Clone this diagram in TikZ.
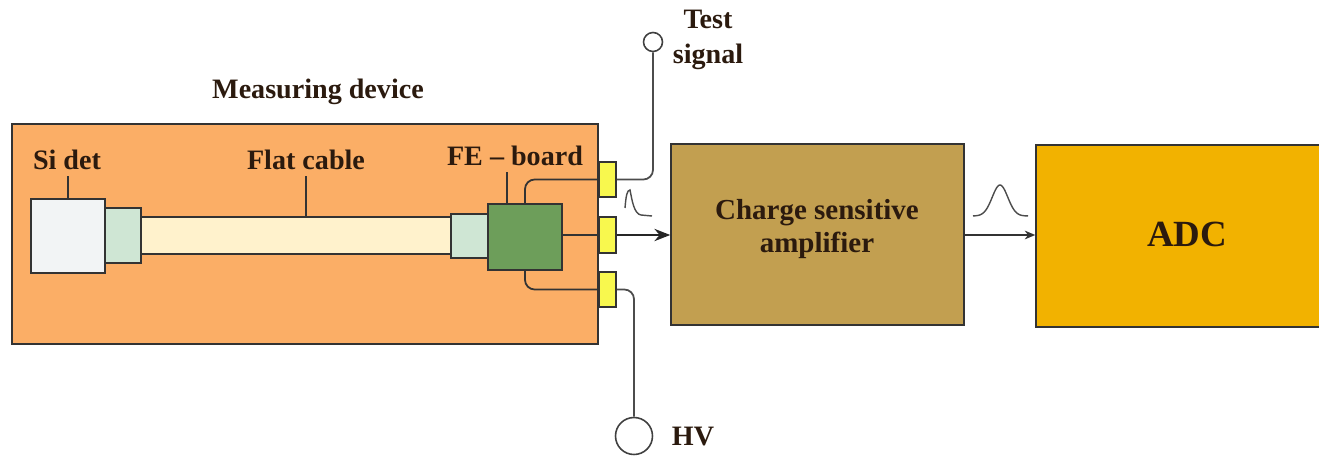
\documentclass[tikz,border=0pt]{standalone}
\usepackage{fontspec}
\setmainfont{Liberation Serif}
\usepackage{tikz}
\usetikzlibrary{arrows.meta}
\definecolor{devorange}{HTML}{FBAE66}
\definecolor{detgray}{HTML}{F2F4F5}
\definecolor{plugmint}{HTML}{CFE6D4}
\definecolor{cablecream}{HTML}{FFF2CC}
\definecolor{boardgreen}{HTML}{6D9E5A}
\definecolor{socketyellow}{HTML}{F8F84E}
\definecolor{ampolive}{HTML}{C29F50}
\definecolor{adcamber}{HTML}{F2B200}
\definecolor{inkbrown}{HTML}{2B1A0E}

\begin{document}
\begin{tikzpicture}[x=0.02cm,y=-0.02cm,
  box/.style={draw=black!80,line width=0.9pt,inner sep=0pt},
  lbl/.style={font=\bfseries\fontsize{16}{19}\selectfont,text=inkbrown},
  wire/.style={draw=black!80,line width=1pt,rounded corners=5.5pt}]
\useasboundingbox (0,0) rectangle (1319,456);

% measuring device
\node[box,fill=devorange,minimum width=11.72cm,minimum height=4.4cm] (dev) at (305,234) {};
\node[lbl] (ldev) at (318,92) {Measuring device};
\node[box,fill=detgray,minimum width=1.48cm,minimum height=1.48cm] (sidet) at (68,236) {};
\node[box,fill=plugmint,minimum width=0.72cm,minimum height=1.1cm] (plugl) at (123,235.5) {};
\node[box,fill=cablecream,minimum width=6.2cm,minimum height=0.74cm] (cable) at (296,235.5) {};
\node[box,fill=plugmint,minimum width=0.74cm,minimum height=0.88cm] (plugr) at (469.5,236) {};
\node[box,fill=boardgreen,minimum width=1.48cm,minimum height=1.32cm] (fe) at (525,237) {};
\node[box,fill=socketyellow,minimum width=0.34cm,minimum height=0.7cm] (sock1) at (607.5,179.5) {};
\node[box,fill=socketyellow,minimum width=0.34cm,minimum height=0.72cm] (sock2) at (607.5,235) {};
\node[box,fill=socketyellow,minimum width=0.34cm,minimum height=0.7cm] (sock3) at (607.5,289.5) {};

\node[lbl] (lsidet) at (67,160) {Si det};
\node[lbl] (lcable) at (306,160) {Flat cable};
\node[lbl] (lfe) at (515,156) {FE -- board};
\coordinate (fetap) at (507,205);
\draw[wire] (sidet.north) -- (sidet.north |- lsidet.south);
\draw[wire] (lcable.south) -- (lcable.south |- cable.north);
\draw[wire] (fetap) -- (fetap |- lfe.south);

\draw[wire] (fe.north) |- (sock1.west);
\draw[wire] (fe.south) |- (sock3.west);
\draw[wire] (fe.east |- sock2.west) -- (sock2.west);

% outside
\node[circle,draw=black!75,line width=0.9pt,minimum size=0.38cm,inner sep=0pt] (tsig) at (653,42) {};
\node[lbl,align=center,font=\bfseries\fontsize{16}{20}\selectfont] (ltsig) at (708,40) {Test\\signal};
\node[circle,draw=black!75,line width=0.9pt,minimum size=0.74cm,inner sep=0pt] (hv) at (634,436) {};
\node[lbl] (lhv) at (693,437) {HV};
\draw[wire,draw=black!70] (sock1.east) -| (tsig.south);
\draw[wire,draw=black!70] (sock3.east) -| (hv.north);

\node[box,fill=ampolive,minimum width=5.86cm,minimum height=3.62cm] (csa) at (817.5,234.5) {};
\node[lbl,font=\bfseries\fontsize{16.5}{19}\selectfont,align=center] (lcsa) at (817,229) {Charge sensitive\\amplifier};
\node[box,fill=adcamber,minimum width=5.8cm,minimum height=3.64cm] (adc) at (1181,236) {};
\node[lbl,font=\bfseries\fontsize{21}{24}\selectfont] (ladc) at (1187,234) {ADC};

\draw[line width=1.2pt,draw=black!85,-{Stealth[length=9pt,width=7pt]}] (sock2.east) -- (sock2.east -| csa.west);
\draw[line width=0.9pt,draw=black!80,-{Stealth[length=6pt,width=5pt]}] (csa.east |- 0,235) -- (adc.west |- 0,235);

% pulse shapes
\draw[line width=0.8pt,black!70] (625,208) .. controls (626,196) and (627,190) .. (630,190)
  .. controls (632,200) and (634,214) .. (641,215) -- (652,216);
\draw[line width=0.8pt,black!70] plot[domain=973:1028,samples=50] (\x,{216-31*exp(-((\x-1000)/11)^2)});
\end{tikzpicture}
\end{document}
